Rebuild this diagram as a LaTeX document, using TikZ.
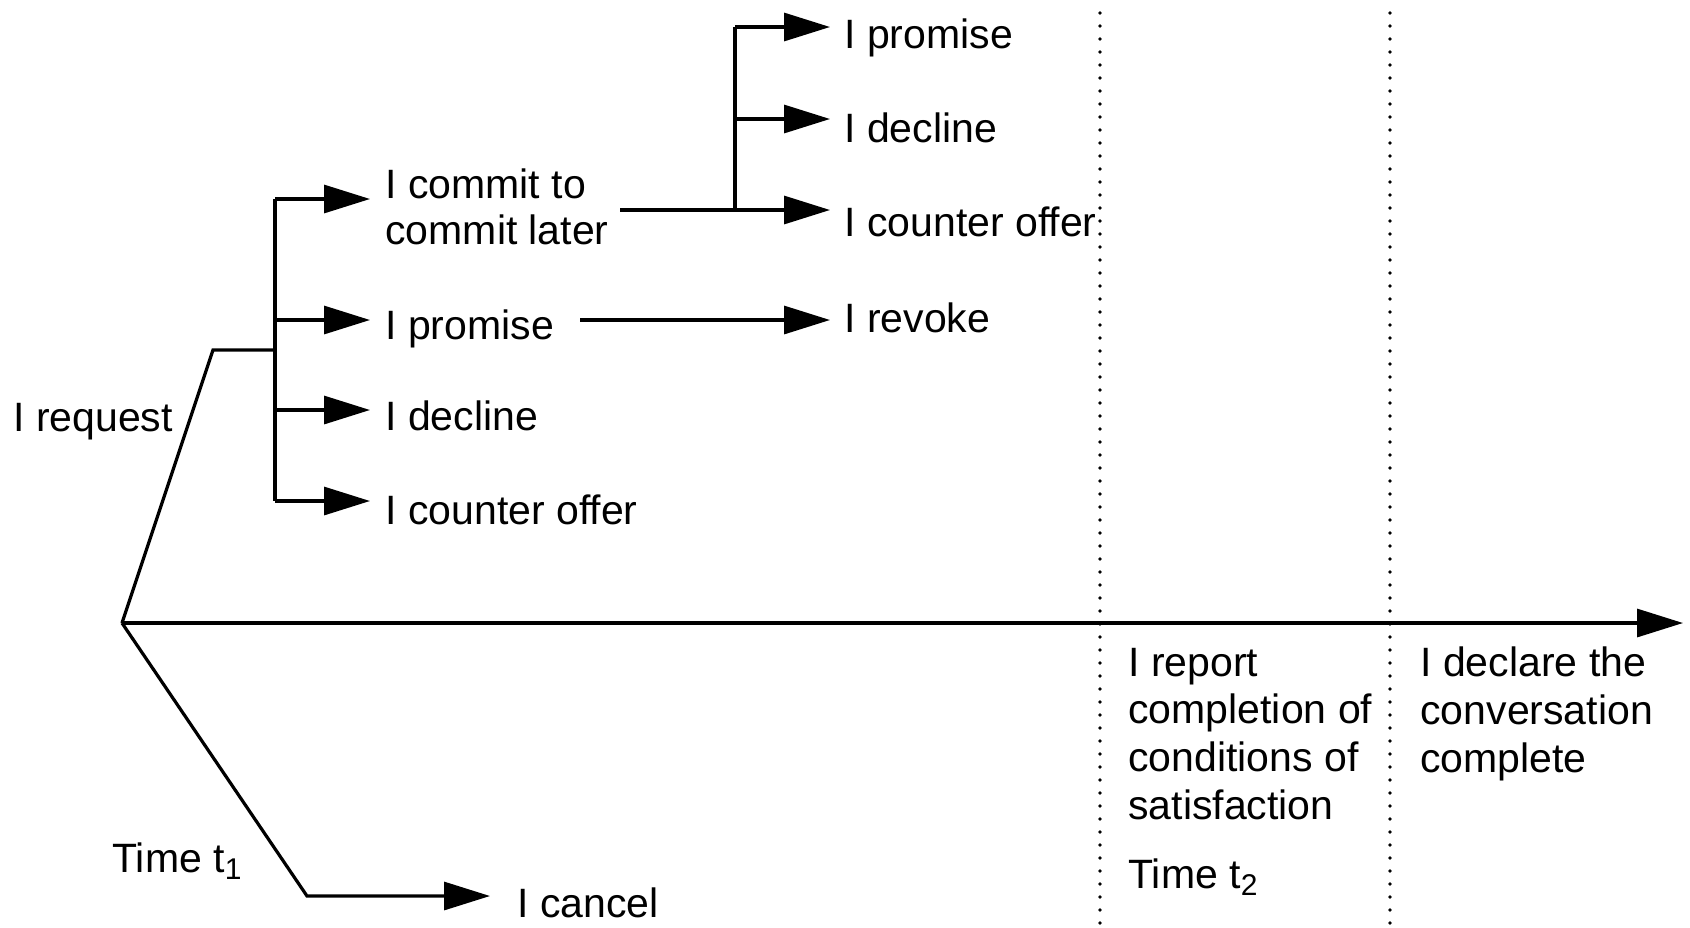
\documentclass[tikz,border=0pt]{standalone}
\usepackage{fontspec}
\setmainfont{Liberation Sans}
\usetikzlibrary{arrows.meta}
\begin{document}
\begin{tikzpicture}[x=0.5pt,y=-0.5pt,
  line/.style={line width=1.6pt, line join=miter},
  arr/.style={line, -{Triangle[length=23pt,width=14pt]}},
  lbl/.style={anchor=base west, inner sep=0pt, align=left,
    font=\fontsize{20.5}{23.8}\selectfont},
  sepline/.style={line width=1.9pt, line cap=round, dash pattern=on 0pt off 6.5pt}]
\useasboundingbox (0,0) rectangle (1690,927);

% junctions of the branching lines
\coordinate (O) at (122,623);
\coordinate (R) at (213,350);
\coordinate (J) at (275,350);
\coordinate (Ta) at (275,199);
\coordinate (Tb) at (275,320);
\coordinate (Tc) at (275,410);
\coordinate (Td) at (275,501);
\coordinate (Ha) at (370,199);
\coordinate (Hb) at (370,320);
\coordinate (Hc) at (370,410);
\coordinate (Hd) at (370,501);

\coordinate (Ca) at (620,210);
\coordinate (Cj) at (735,210);
\coordinate (Cp) at (735,27);
\coordinate (Cd) at (735,119);
\coordinate (Gp) at (830,27);
\coordinate (Gd) at (830,119);
\coordinate (Gc) at (830,210);
\coordinate (Pa) at (580,320);
\coordinate (Gr) at (830,320);

\coordinate (K) at (307,896);
\coordinate (Kt) at (490,896);
\coordinate (E) at (1683,623);

\coordinate (Da) at (1100,13);
\coordinate (Db) at (1100,927);
\coordinate (Ea) at (1390,13);
\coordinate (Eb) at (1390,927);

% labels (base anchor of a multi-line label sits on its last line)
\node[lbl] (req) at (13,431) {I request};
\node[lbl] (t1) at (112,872) {Time t\raisebox{-0.35ex}{\fontsize{15}{15}\selectfont 1}};
\node[lbl] (cancel) at (517,917) {I cancel};

\node[lbl, font=\fontsize{20.5}{22.6}\selectfont] (commit) at (385,244) {I commit to\\commit later};
\node[lbl] (promise) at (385,339) {I promise};
\node[lbl] (decline) at (385,430) {I decline};
\node[lbl] (counter) at (385,524) {I counter offer};

\node[lbl] (promise2) at (844,48) {I promise};
\node[lbl] (decline2) at (844,142) {I decline};
\node[lbl] (counter2) at (844,236) {I counter offer};
\node[lbl] (revoke) at (844,332) {I revoke};

\node[lbl] (report) at (1128,819) {I report\\completion of\\conditions of\\satisfaction};
\node[lbl] (t2) at (1128,888) {Time t\raisebox{-0.35ex}{\fontsize{15}{15}\selectfont 2}};
\node[lbl] (declare) at (1420,772) {I declare the\\conversation\\complete};

% time divisions
\draw[sepline] (Da) -- (Db);
\draw[sepline] (Ea) -- (Eb);

% time line and the request / cancel paths
\draw[arr] (O) -- (E);
\draw[line] (O) -- (R) -- (J);
\draw[arr] (O) -- (K) -- (Kt);

% responses to the request
\draw[line] (Ta) -- (Td);
\draw[arr] (Ta) -- (Ha);
\draw[arr] (Tb) -- (Hb);
\draw[arr] (Tc) -- (Hc);
\draw[arr] (Td) -- (Hd);

% later responses
\draw[arr] (Ca) -- (Gc);
\draw[line] (Cj) -- (Cp);
\draw[arr] (Cp) -- (Gp);
\draw[arr] (Cd) -- (Gd);
\draw[arr] (Pa) -- (Gr);
\end{tikzpicture}
\end{document}
